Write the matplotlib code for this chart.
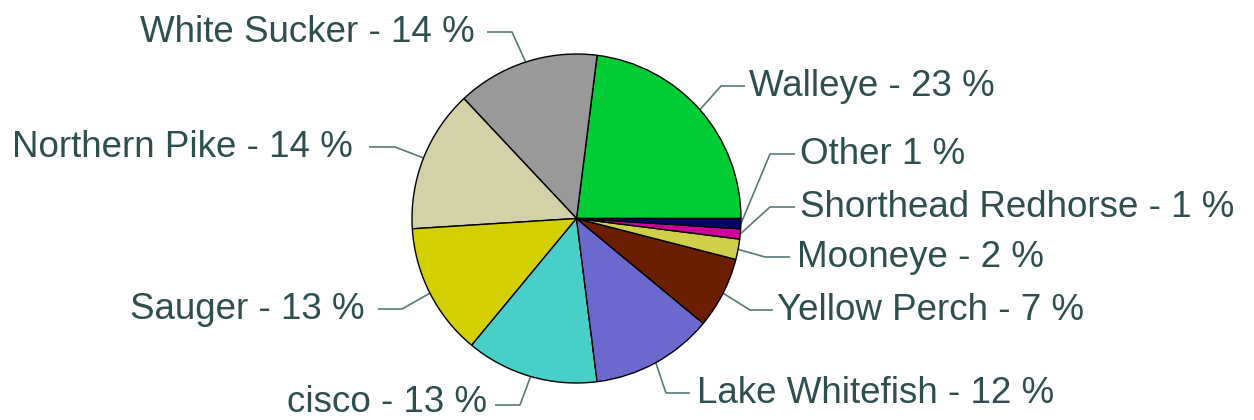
import numpy as np
import matplotlib
matplotlib.use("Agg")
import matplotlib.pyplot as plt

# Catch composition by species (percent)
species = ["Walleye", "White Sucker", "Northern Pike", "Sauger", "cisco",
           "Lake Whitefish", "Yellow Perch", "Mooneye", "Shorthead Redhorse", "Other"]
percents = [23, 14, 14, 13, 13, 12, 7, 2, 1, 1]
labels = ["Walleye - 23 %", "White Sucker - 14 %", "Northern Pike - 14 %",
          "Sauger - 13 %", "cisco - 13 %", "Lake Whitefish - 12 %",
          "Yellow Perch - 7 %", "Mooneye - 2 %", "Shorthead Redhorse - 1 %",
          "Other 1 %"]
colors = ["#00CC33", "#999999", "#D3D1A8", "#D4D000", "#48CFC8",
          "#6B69CD", "#6B1E00", "#CFCF4A", "#CC0099", "#000066"]

W, H = 1254, 420
fig = plt.figure(figsize=(W / 100, H / 100), dpi=100)
ax = fig.add_axes([0, 0, 1, 1])

cx, cy, r = 576.5, H - 218.5, 164.5
wedges, _ = ax.pie(percents, colors=colors, startangle=0, counterclock=True,
                   center=(cx, cy), radius=r, frame=True,
                   wedgeprops=dict(edgecolor="black", linewidth=1.0))
ax.set_xlim(0, W)
ax.set_ylim(0, H)
ax.set_aspect("equal")
ax.axis("off")

txt_color = "#2F4F4F"
line_color = "#5A7878"
# leader layout in pixels from the top-left: elbow x, elbow y, end of the
# horizontal run, x where the label text is anchored, and the baseline drop
layout = [
    (721, 86, 745, 749, 10),
    (512, 32, 487, 475, 10),
    (395, 147, 369, 353, 10),
    (402, 309, 378, 365, 10),
    (520, 405, 495, 487, 7),
    (666, 393, 690, 697, 10),
    (750, 310, 773, 777, 10),
    (765, 257, 790, 797, 10),
    (770, 207, 795, 800, 10),
    (770, 154, 795, 800, 10),
]

for w, lab, (ex, ey, hx, tx, drop) in zip(wedges, labels, layout):
    mid = np.deg2rad((w.theta1 + w.theta2) / 2)
    px, py = cx + r * np.cos(mid), cy + r * np.sin(mid)
    ey = H - ey
    ha = "left" if hx > ex else "right"
    ax.plot([px, ex, hx], [py, ey, ey], color=line_color, lw=1.2,
            solid_capstyle="butt", zorder=0)
    ax.text(tx, ey - drop, lab, ha=ha, va="baseline", color=txt_color,
            fontsize=26.5, family=["Liberation Sans", "DejaVu Sans"])

fig.savefig("out.png", dpi=100, facecolor="white")
